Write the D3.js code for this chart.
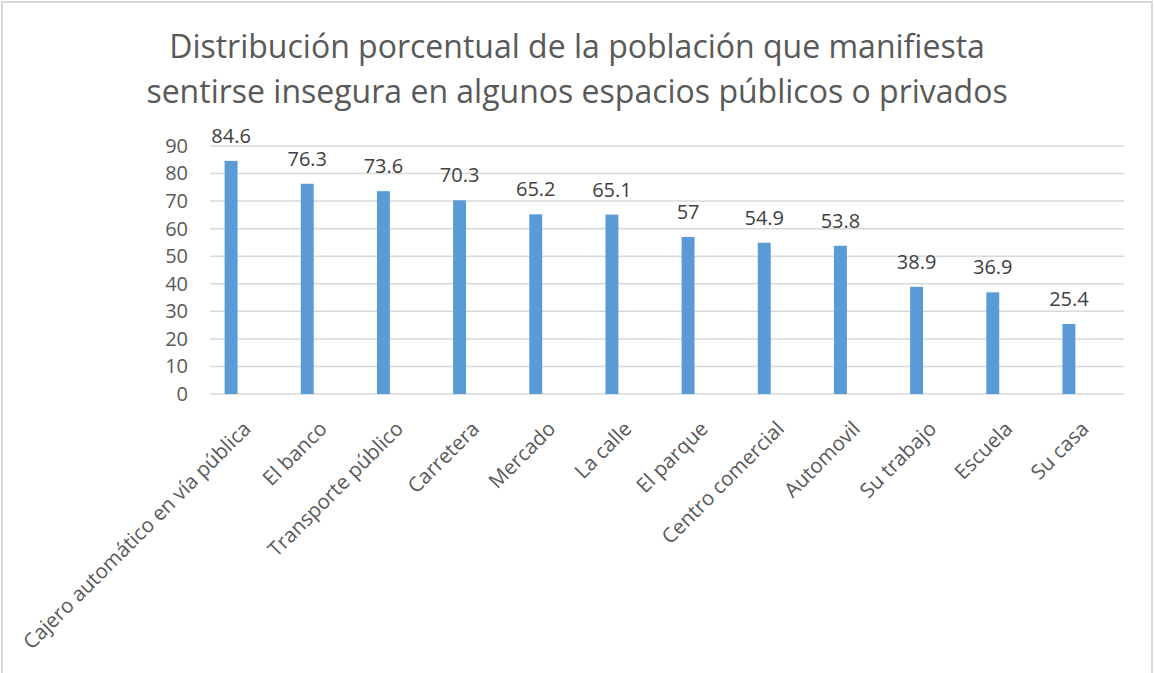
<html>
<head>
<meta charset="utf-8">
<script src="https://d3js.org/d3.v7.min.js"></script>
<style>
  body { margin: 0; background: white; }
  text { font-family: "Open Sans", sans-serif; }
  .grid line { stroke: #d9d9d9; stroke-width: 1.5px; }
  .bar { fill: #5b9bd5; }
</style>
</head>
<body>
<svg id="chart" width="1154" height="673"></svg>
<script>
  const categories = ["Cajero automático en vía pública", "El banco", "Transporte público", "Carretera",
    "Mercado", "La calle", "El parque", "Centro comercial", "Automovil", "Su trabajo", "Escuela", "Su casa"];
  const values = [84.6, 76.3, 73.6, 70.3, 65.2, 65.1, 57, 54.9, 53.8, 38.9, 36.9, 25.4];
  const yTicks = [0, 10, 20, 30, 40, 50, 60, 70, 80, 90];
  const titleLines = ["Distribución porcentual de la población que manifiesta",
    "sentirse insegura en algunos espacios públicos o privados"];

  const svg = d3.select("#chart");

  // frame
  svg.append("rect")
    .attr("x", 2).attr("y", 2).attr("width", 1150).attr("height", 700)
    .attr("fill", "none").attr("stroke", "#d9d9d9").attr("stroke-width", 2);

  // title
  svg.append("g").selectAll("text").data(titleLines)
    .join("text")
    .attr("x", 577)
    .attr("y", (d, i) => 58 + i * 45)
    .attr("text-anchor", "middle")
    .attr("fill", "#595959")
    .attr("font-size", 32)
    .text(d => d);

  const y = d3.scaleLinear().domain([0, 90]).range([394, 146]);
  const x = d3.scaleBand().domain(categories).range([193, 1107])
    .paddingInner(0.83).paddingOuter(0.415);

  // gridlines
  svg.append("g").attr("class", "grid")
    .selectAll("line").data(yTicks)
    .join("line")
    .attr("x1", 210).attr("x2", 1124)
    .attr("y1", d => y(d)).attr("y2", d => y(d));

  // y axis labels
  const yAxis = d3.axisLeft(y).tickValues(yTicks).tickSize(0).tickPadding(0);
  const ya = svg.append("g").attr("transform", "translate(188,0)").call(yAxis);
  ya.select(".domain").remove();
  ya.selectAll("text")
    .attr("font-family", "'Open Sans', sans-serif")
    .attr("font-size", 20)
    .attr("fill", "#595959");

  // bars
  svg.append("g").selectAll("rect").data(values)
    .join("rect")
    .attr("class", "bar")
    .attr("x", (d, i) => x(categories[i]))
    .attr("width", x.bandwidth())
    .attr("y", d => y(d))
    .attr("height", d => y(0) - y(d));

  // data labels
  svg.append("g").selectAll("text").data(values)
    .join("text")
    .attr("x", (d, i) => x(categories[i]) + x.bandwidth() / 2)
    .attr("y", d => y(d) - 18)
    .attr("text-anchor", "middle")
    .attr("font-size", 20)
    .attr("fill", "#404040")
    .text(d => d);

  // x labels
  svg.append("g").selectAll("text").data(categories)
    .join("text")
    .attr("transform", d => "translate(" + (x(d) + x.bandwidth() / 2 + 16) + ",425) rotate(-45)")
    .attr("text-anchor", "end")
    .attr("dy", "0.35em")
    .attr("font-size", 20.5)
    .attr("fill", "#595959")
    .text(d => d);
</script>
</body>
</html>
